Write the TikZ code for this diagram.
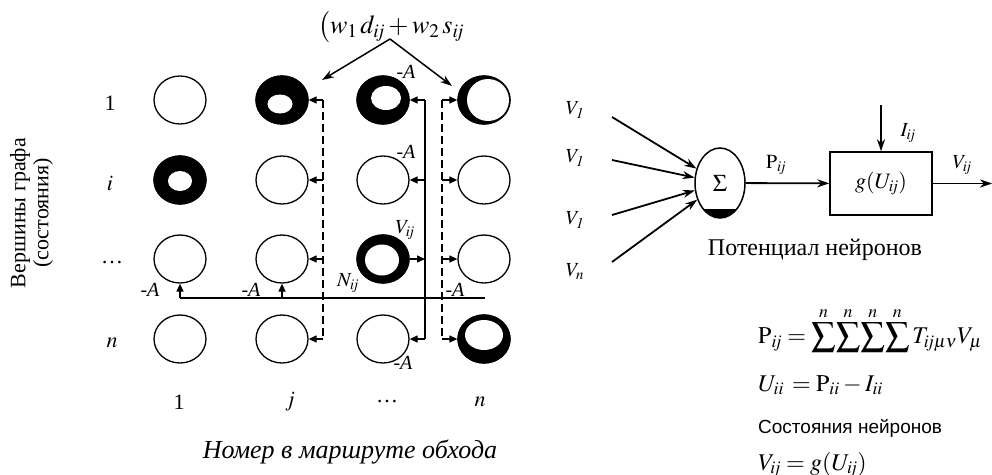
\documentclass[tikz,border=0pt]{standalone}
\usepackage{mathptmx}
\usepackage{fontspec}
\setmainfont{Liberation Serif}
\newfontfamily\sansfont{Liberation Sans}
\usetikzlibrary{arrows.meta, shapes.geometric}

\begin{document}
\begin{tikzpicture}[x=1pt, y=-1pt,
    cell/.style={draw, ellipse, line width=1.3pt, minimum width=52pt, minimum height=48pt, inner sep=0pt},
    hole/.style={ellipse, fill=white, inner sep=0pt},
    lbl/.style={font=\fontsize{22}{26}\selectfont, inner sep=0pt},
    alabel/.style={font=\fontsize{20}{24}\selectfont, inner sep=0pt},
    feed/.style={line width=1.3pt, -{Triangle[length=8pt,width=7pt]}},
    bus/.style={line width=2pt, dash pattern=on 8pt off 4pt},
    sig/.style={line width=1.8pt, -{Stealth[length=12pt,width=8pt]}},
    sumnode/.style={draw, ellipse, line width=1.5pt, minimum width=50pt, minimum height=70pt, inner sep=0pt,
        path picture={\fill (path picture bounding box.south west) rectangle ([yshift=9pt]path picture bounding box.south east);}},
    gbox/.style={draw, line width=1.5pt, minimum width=102pt, minimum height=63pt, inner sep=0pt}
]
\useasboundingbox (0,0) rectangle (992,474);

% grid of neurons
\foreach \r/\y in {1/100,2/180,3/259,4/339}
  \foreach \c/\x in {1/180,2/282,3/383,4/484}
    \node[cell] (c\r\c) at (\x,\y) {};

% active neurons
\foreach \n in {12,13,14,21,33,44}
  \node[cell, fill=black] (f\n) at (c\n) {};
\node[hole, minimum width=25pt, minimum height=19pt] (h12) at (280,104) {};
\node[hole, minimum width=30pt, minimum height=24pt] (h13) at (386,98) {};
\node[hole, minimum width=42pt, minimum height=42pt] (h14) at (488,100) {};
\node[hole, minimum width=24pt, minimum height=20pt] (h21) at (180,181) {};
\node[hole, minimum width=34pt, minimum height=31pt] (h33) at (382,260) {};
\node[hole, minimum width=38pt, minimum height=30pt] (h44) at (484,335) {};

% row and column labels
\node[lbl] (r1) at (110,103) {1};
\node[lbl] (r2) at (110,183) {$i$};
\node[lbl] (r3) at (112,263) {\dots};
\node[lbl] (r4) at (112,343) {$n$};
\node[lbl] (k1) at (179,402) {1};
\node[lbl] (k2) at (290,402) {$j$};
\node[lbl] (k3) at (387,402) {\dots};
\node[lbl] (k4) at (480,402) {$n$};
\node[font=\fontsize{26}{30}\selectfont\itshape] (route) at (350,452) {Номер в маршруте обхода};
\node[font=\fontsize{22}{26}\selectfont, rotate=90] (verts) at (20,213) {Вершины графа};
\node[font=\fontsize{22}{26}\selectfont, rotate=90] (states) at (43,213) {(состояния)};

% weights
\node[font=\fontsize{26}{30}\selectfont, inner sep=0pt] (wts) at (391,27) {$\bigl(w_1\,d_{\mathit{ij}}+w_2\,s_{\mathit{ij}}$};
\coordinate (apex) at (390,39);
\coordinate (lt) at (322,80);
\coordinate (rt) at (452,86);
\draw[sig, line width=1.5pt] (apex) -- (lt);
\draw[sig, line width=1.5pt] (apex) -- (rt);

% vertical buses
\coordinate (b1) at (323,100);
\coordinate (b2) at (425,100);
\coordinate (b3) at (442,100);
\draw[bus] (b1) -- (b1 |- c42);
\draw[line width=1.3pt] (b2) -- (b2 |- c43);
\draw[bus] (b3) -- (b3 |- c44);
\foreach \r in {1,2,3,4} {
  \draw[feed] (b1 |- c\r2) -- (c\r2.east);
  \draw[feed] (b3 |- c\r4) -- (c\r4.west);
}
\foreach \r in {1,2,4}
  \draw[feed] (b2 |- c\r3) -- (c\r3.east);
\draw[feed] (c33.east) -- (b2 |- c33);

% horizontal bus
\coordinate (nend) at (485,298);
\coordinate (nstart) at (c31 |- nend);
\draw[line width=1.3pt] (nstart) -- (nend);
\draw[feed] (nstart) -- (c31.south);
\draw[feed] (c32 |- nend) -- (c32.south);

% grid labels
\node[alabel] (a1) at (406,72) {\textit{-A}};
\node[alabel] (a2) at (406,152) {\textit{-A}};
\node[alabel] (a3) at (403,363) {\textit{-A}};
\node[alabel] (a4) at (150,290) {\textit{-A}};
\node[alabel] (a5) at (251,290) {\textit{-A}};
\node[alabel] (a6) at (455,290) {\textit{-A}};
\node[alabel] (nij) at (348,283) {$N_{\mathit{ij}}$};
\node[alabel] (vij) at (405,230) {$V_{\mathit{ij}}$};

% neuron
\node[sumnode] (sum) at (720,183) {\fontsize{24}{28}\selectfont$\Sigma$};
\node[gbox] (g) at (881,183.5) {\fontsize{22}{26}\selectfont$g(U_{\mathit{ij}})$};
\foreach \i/\y in {1/117,2/160,3/215,4/262}
  \coordinate (in\i) at (612,\y);
\foreach \i in {1,...,4}
  \draw[sig] (in\i) -- (sum);
\node[alabel] (v1) at (575,110) {$V_{\mathit{1}}$};
\node[alabel] (v2) at (575,158) {$V_{\mathit{1}}$};
\node[alabel] (v3) at (575,220) {$V_{\mathit{1}}$};
\node[alabel] (v4) at (575,272) {$V_n$};
\draw[sig] (sum) -- (g);
\node[alabel] (pij) at (776,165) {$\mathrm{P}_{\mathit{ij}}$};
\coordinate (itop) at (881,105);
\draw[sig] (itop) -- (g);
\node[alabel] (iij) at (908,133) {$I_{\mathit{ij}}$};
\coordinate (vout) at (992,183.5);
\draw[sig] (g) -- (vout);
\node[alabel] (vo) at (962,165) {$V_{\mathit{ij}}$};
\node[font=\fontsize{24}{28}\selectfont] (pot) at (815,250) {Потенциал нейронов};

% formulas
\node[anchor=west, inner sep=0pt, font=\fontsize{24}{28}\selectfont] (fp) at (758,330)
  {$\mathrm{P}_{\mathit{ij}}=\displaystyle\sum^{n}\!\sum^{n}\!\sum^{n}\!\sum^{n}T_{\mathit{ij}\mu\nu}V_{\mu}$};
\node[anchor=west, inner sep=0pt, font=\fontsize{24}{28}\selectfont] (fu) at (758,385)
  {$U_{\mathit{ii}}\,=\mathrm{P}_{\mathit{ii}}-I_{\mathit{ii}}$};
\node[anchor=west, inner sep=0pt, font=\fontsize{19}{23}\selectfont\sansfont] (st) at (758,428) {Состояния нейронов};
\node[anchor=west, inner sep=0pt, font=\fontsize{24}{28}\selectfont] (fv) at (758,465)
  {$V_{\mathit{ij}}=g(U_{\mathit{ij}})$};
\end{tikzpicture}
\end{document}
